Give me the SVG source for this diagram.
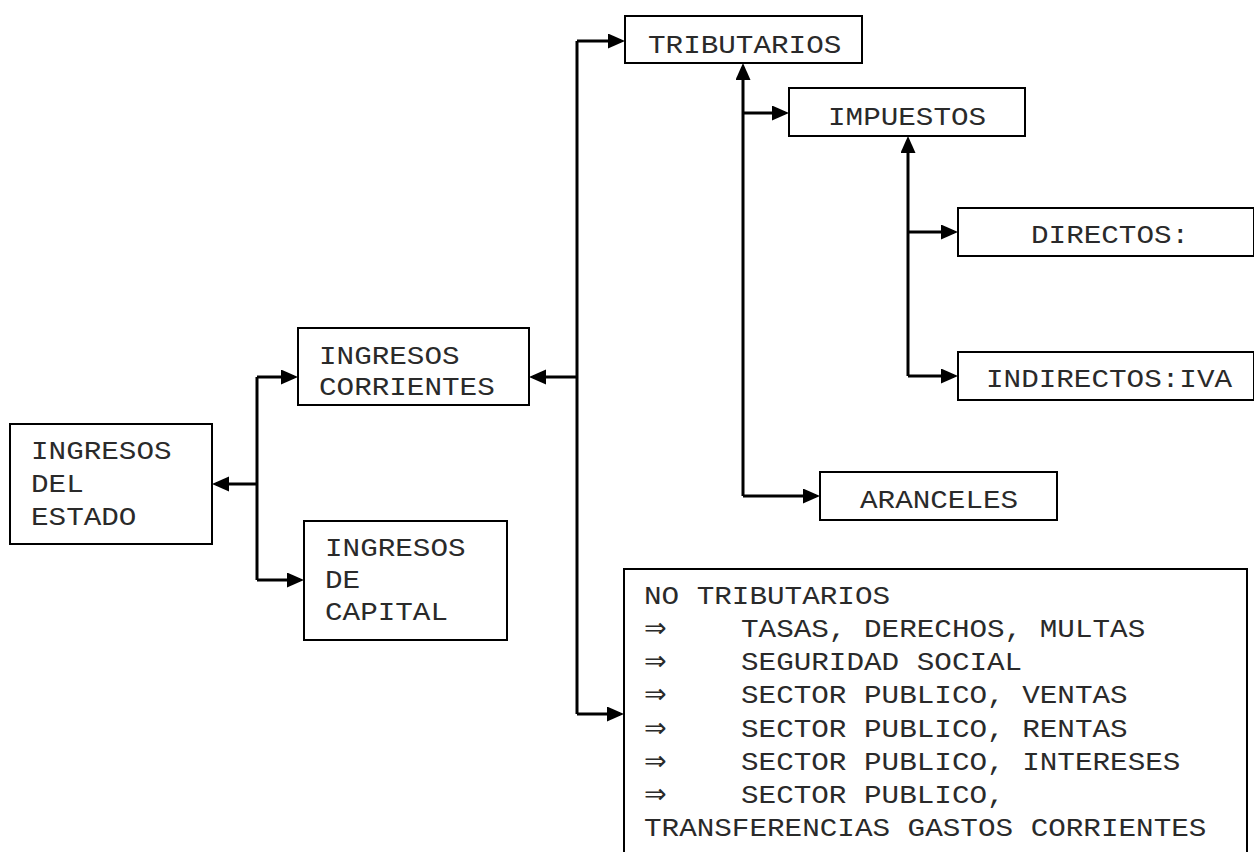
<svg xmlns="http://www.w3.org/2000/svg" width="1254" height="852" viewBox="0 0 1254 852">
<style>
.box{fill:#fff;stroke:#000;stroke-width:2}
.t{font-family:"Liberation Mono","Courier New",monospace;font-size:29.3px;fill:#2a2a2a}
.ar{font-family:"DejaVu Sans",sans-serif;font-size:27px;fill:#2a2a2a}
.c{fill:none;stroke:#000;stroke-width:3}
.ca{fill:none;stroke:#000;stroke-width:3;marker-end:url(#ah)}
</style>
<defs>
<marker id="ah" markerUnits="userSpaceOnUse" markerWidth="17" markerHeight="16" refX="13" refY="7.5" orient="auto">
<path d="M0,0 L17,7.5 L0,15 z" fill="#000"/>
</marker>
</defs>
<rect width="1254" height="852" fill="#fff"/>

<g id="connectors">
<path class="c" d="M257,377 V580"/>
<path class="ca" d="M257,484 H216"/>
<path class="ca" d="M257,377 H294"/>
<path class="ca" d="M257,580 H300"/>

<path class="c" d="M577,41 V714"/>
<path class="ca" d="M577,377 H533"/>
<path class="ca" d="M577,41 H621"/>
<path class="ca" d="M577,714 H620"/>

<path class="ca" d="M743,496 V67"/>
<path class="ca" d="M743,113 H785"/>
<path class="ca" d="M743,496 H816"/>

<path class="ca" d="M908,376 V140"/>
<path class="ca" d="M908,232 H954"/>
<path class="ca" d="M908,376 H954"/>
</g>

<g id="ingresos-estado">
<rect class="box" x="10" y="424" width="202" height="120"/>
<text class="t" transform="translate(31,459) scale(1,0.86)">INGRESOS</text>
<text class="t" transform="translate(31,492) scale(1,0.86)">DEL</text>
<text class="t" transform="translate(31,525) scale(1,0.86)">ESTADO</text>
</g>

<g id="ingresos-corrientes">
<rect class="box" x="298" y="328" width="231" height="77"/>
<text class="t" transform="translate(319,364) scale(1,0.86)">INGRESOS</text>
<text class="t" transform="translate(319,395) scale(1,0.86)">CORRIENTES</text>
</g>

<g id="ingresos-capital">
<rect class="box" x="304" y="521" width="203" height="119"/>
<text class="t" transform="translate(325,556) scale(1,0.86)">INGRESOS</text>
<text class="t" transform="translate(325,588) scale(1,0.86)">DE</text>
<text class="t" transform="translate(325,620) scale(1,0.86)">CAPITAL</text>
</g>

<g id="tributarios">
<rect class="box" x="625" y="16" width="237" height="47"/>
<text class="t" transform="translate(648,53) scale(1,0.86)">TRIBUTARIOS</text>
</g>

<g id="impuestos">
<rect class="box" x="789" y="88" width="236" height="48"/>
<text class="t" transform="translate(828,125) scale(1,0.86)">IMPUESTOS</text>
</g>

<g id="directos">
<rect class="box" x="958" y="208" width="296" height="48"/>
<text class="t" transform="translate(1031,243) scale(1,0.86)">DIRECTOS:</text>
</g>

<g id="indirectos">
<rect class="box" x="958" y="352" width="296" height="48"/>
<text class="t" transform="translate(986,387) scale(1,0.86)">INDIRECTOS:IVA</text>
</g>

<g id="aranceles">
<rect class="box" x="820" y="472" width="237" height="48"/>
<text class="t" transform="translate(860,508) scale(1,0.86)">ARANCELES</text>
</g>

<g id="no-tributarios">
<rect class="box" x="624" y="569" width="623" height="300"/>
<text class="t" transform="translate(644,604) scale(1,0.86)">NO TRIBUTARIOS</text>
<text class="ar" x="644" y="637">⇒</text>
<text class="t" transform="translate(741,637) scale(1,0.86)">TASAS, DERECHOS, MULTAS</text>
<text class="ar" x="644" y="670">⇒</text>
<text class="t" transform="translate(741,670) scale(1,0.86)">SEGURIDAD SOCIAL</text>
<text class="ar" x="644" y="703">⇒</text>
<text class="t" transform="translate(741,703) scale(1,0.86)">SECTOR PUBLICO, VENTAS</text>
<text class="ar" x="644" y="737">⇒</text>
<text class="t" transform="translate(741,737) scale(1,0.86)">SECTOR PUBLICO, RENTAS</text>
<text class="ar" x="644" y="770">⇒</text>
<text class="t" transform="translate(741,770) scale(1,0.86)">SECTOR PUBLICO, INTERESES</text>
<text class="ar" x="644" y="803">⇒</text>
<text class="t" transform="translate(741,803) scale(1,0.86)">SECTOR PUBLICO,</text>
<text class="t" transform="translate(644,836) scale(1,0.86)">TRANSFERENCIAS GASTOS CORRIENTES</text>
</g>
</svg>
